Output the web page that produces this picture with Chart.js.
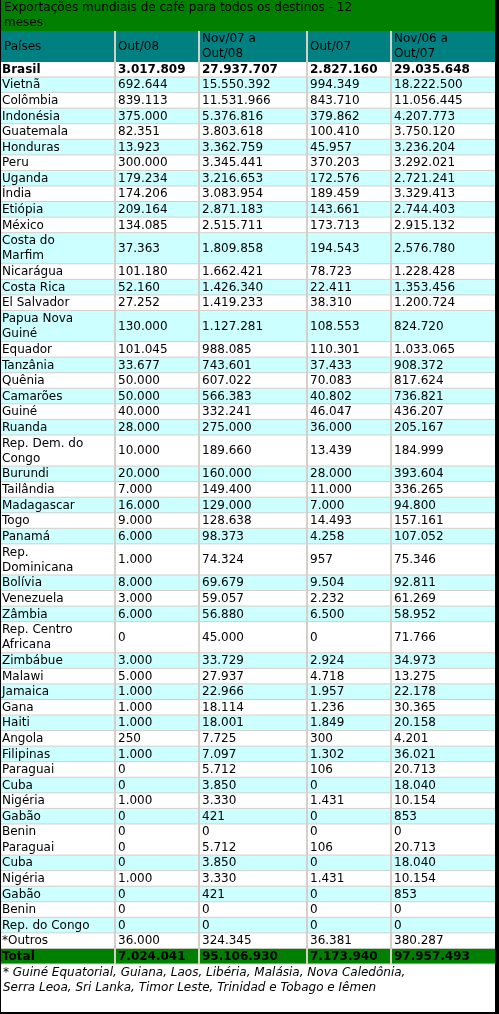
<!DOCTYPE html>
<html><head><meta charset="utf-8">
<script src="https://cdn.jsdelivr.net/npm/chart.js@4"></script>
<style>html,body{margin:0;padding:0;background:#000;}#w{width:499px;height:1014px;}</style>
</head><body><div id="w"><canvas id="c"></canvas></div>
<script>
const title = ["Exportações mundiais de café para todos os destinos - 12", "meses"];
const headers = ["Países", "Out/08", "Nov/07 a\nOut/08", "Out/07", "Nov/06 a\nOut/07"];
const countries = ["Brasil","Vietnã","Colômbia","Indonésia","Guatemala","Honduras","Peru","Uganda","Índia","Etiópia","México","Costa do\nMarfim","Nicarágua","Costa Rica","El Salvador","Papua Nova\nGuiné","Equador","Tanzânia","Quênia","Camarões","Guiné","Ruanda","Rep. Dem. do\nCongo","Burundi","Tailândia","Madagascar","Togo","Panamá","Rep.\nDominicana","Bolívia","Venezuela","Zâmbia","Rep. Centro\nAfricana","Zimbábue","Malawi","Jamaica","Gana","Haiti","Angola","Filipinas","Paraguai","Cuba","Nigéria","Gabão","Benin","Paraguai","Cuba","Nigéria","Gabão","Benin","Rep. do Congo","*Outros","Total"];
const out08 = ["3.017.809","692.644","839.113","375.000","82.351","13.923","300.000","179.234","174.206","209.164","134.085","37.363","101.180","52.160","27.252","130.000","101.045","33.677","50.000","50.000","40.000","28.000","10.000","20.000","7.000","16.000","9.000","6.000","1.000","8.000","3.000","6.000","0","3.000","5.000","1.000","1.000","1.000","250","1.000","0","0","1.000","0","0","0","0","1.000","0","0","0","36.000","7.024.041"];
const nov07out08 = ["27.937.707","15.550.392","11.531.966","5.376.816","3.803.618","3.362.759","3.345.441","3.216.653","3.083.954","2.871.183","2.515.711","1.809.858","1.662.421","1.426.340","1.419.233","1.127.281","988.085","743.601","607.022","566.383","332.241","275.000","189.660","160.000","149.400","129.000","128.638","98.373","74.324","69.679","59.057","56.880","45.000","33.729","27.937","22.966","18.114","18.001","7.725","7.097","5.712","3.850","3.330","421","0","5.712","3.850","3.330","421","0","0","324.345","95.106.930"];
const out07 = ["2.827.160","994.349","843.710","379.862","100.410","45.957","370.203","172.576","189.459","143.661","173.713","194.543","78.723","22.411","38.310","108.553","110.301","37.433","70.083","40.802","46.047","36.000","13.439","28.000","11.000","7.000","14.493","4.258","957","9.504","2.232","6.500","0","2.924","4.718","1.957","1.236","1.849","300","1.302","106","0","1.431","0","0","106","0","1.431","0","0","0","36.381","7.173.940"];
const nov06out07 = ["29.035.648","18.222.500","11.056.445","4.207.773","3.750.120","3.236.204","3.292.021","2.721.241","3.329.413","2.744.403","2.915.132","2.576.780","1.228.428","1.353.456","1.200.724","824.720","1.033.065","908.372","817.624","736.821","436.207","205.167","184.999","393.604","336.265","94.800","157.161","107.052","75.346","92.811","61.269","58.952","71.766","34.973","13.275","22.178","30.365","20.158","4.201","36.021","20.713","18.040","10.154","853","0","20.713","18.040","10.154","853","0","0","380.287","97.957.493"];
const footnote = ["* Guiné Equatorial, Guiana, Laos, Libéria, Malásia, Nova Caledônia,", "Serra Leoa, Sri Lanka, Timor Leste, Trinidad e Tobago e Iêmen"];
// style
const shaded = [0,1,0,1,0,1,0,1,0,1,0,1,0,1,0,1,0,1,0,1,0,1,0,1,0,1,0,1,0,1,0,1,0,1,0,1,0,1,0,1,0,1,0,1,0,0,1,0,1,0,1,0,0];
const colX = [1,115,199,307,391,495];
const W=499,H=1014, rowTop=62, unit=15.56;

const tablePlugin = {
  id:'table',
  afterDraw(chart){
    const ctx=chart.ctx, xs=chart.scales.x, ys=chart.scales.y;
    const X=v=>xs.getPixelForValue(v), Y=v=>ys.getPixelForValue(v);
    ctx.save();
    ctx.fillStyle='#000'; ctx.fillRect(0,0,W,H);
    ctx.fillStyle='#007f00'; ctx.fillRect(X(1),Y(0),X(495)-X(1),Y(31)-Y(0));
    ctx.fillStyle='#000'; ctx.font='12px "DejaVu Sans"'; ctx.textBaseline='middle';
    ctx.fillText(title[0],X(4),Y(8)); ctx.fillText(title[1],X(4),Y(23));
    ctx.fillStyle='#008080'; ctx.fillRect(X(1),Y(31),X(495)-X(1),Y(62)-Y(31));
    ctx.fillStyle='#000';
    headers.forEach((h,i)=>{
      const ls=h.split('\n'); const cy=46.5;
      ls.forEach((l,k)=>ctx.fillText(l,X(colX[i]+3),Y(cy+(k-(ls.length-1)/2)*15)));
    });
    let y=rowTop;
    const cols=[countries,out08,nov07out08,out07,nov06out07];
    countries.forEach((c,r)=>{
      const lines=c.split('\n').length; const h=lines*unit;
      const isTotal=r===countries.length-1;
      ctx.fillStyle=isTotal?'#007f00':(shaded[r]?'#ccffff':'#ffffff');
      ctx.fillRect(X(1),Y(y),X(495)-X(1),Y(y+h)-Y(y));
      ctx.fillStyle='#000';
      const bold=(r===0||isTotal);
      ctx.font=(bold?'bold 12px':'12px')+' "DejaVu Sans"';
      cols.forEach((arr,i)=>{
        const ls=String(arr[r]).split('\n'); const cy=y+h/2;
        ls.forEach((l,k)=>ctx.fillText(l,X(colX[i]+(i?3:1)),Y(cy+(k-(ls.length-1)/2)*15)));
      });
      ctx.fillStyle='#d4d0c8';
      if(r!==44) ctx.fillRect(X(1),Y(y+h)-1,X(495)-X(1),2);
      y+=h;
    });
    ctx.fillStyle='#d4d0c8';
    for(let i=1;i<5;i++) ctx.fillRect(X(colX[i])-1,Y(31),2,Y(y)-Y(31));
    ctx.fillStyle='#fff'; ctx.fillRect(X(1),Y(y),X(495)-X(1),Y(1012)-Y(y));
    ctx.fillStyle='#000'; ctx.font='italic 12px "DejaVu Sans"';
    ctx.fillText(footnote[0],X(3),Y(y+8)); ctx.fillText(footnote[1],X(3),Y(y+23));
    ctx.restore();
  }
};

new Chart(document.getElementById('c'),{
  type:'bar',
  data:{labels:[],datasets:[]},
  options:{responsive:true,maintainAspectRatio:false,animation:false,
    layout:{padding:0},
    plugins:{legend:{display:false},tooltip:{enabled:false}},
    scales:{
      x:{type:'linear',min:0,max:W,display:false,offset:false,grace:0},
      y:{type:'linear',min:0,max:H,reverse:true,display:false,offset:false,grace:0}
    }},
  plugins:[tablePlugin]
});
</script></body></html>
